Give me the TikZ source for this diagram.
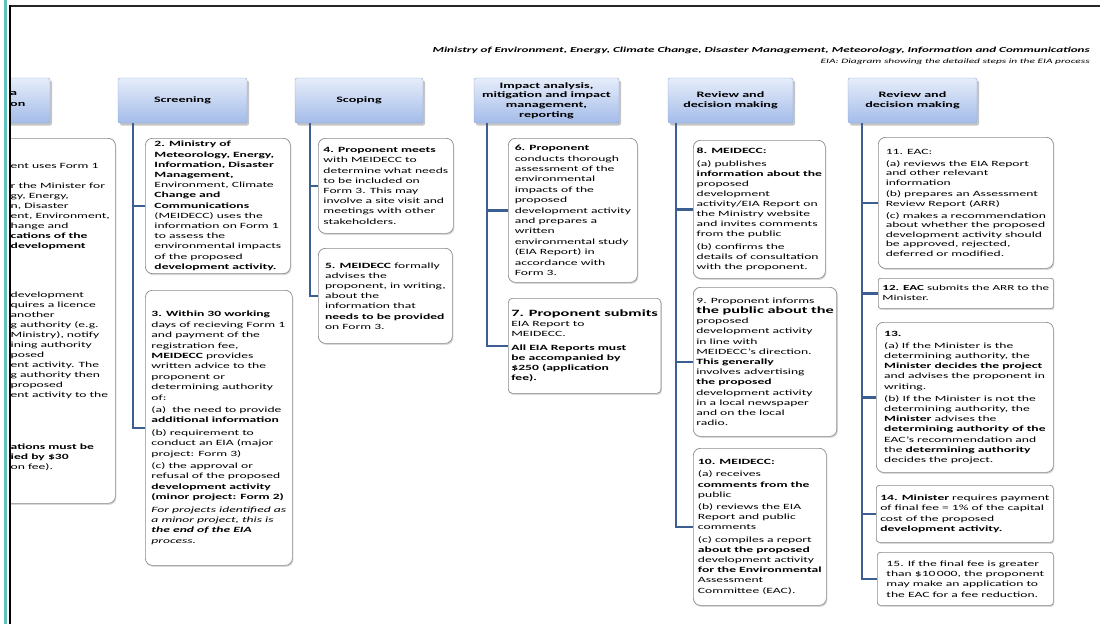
\documentclass[tikz,border=0pt]{standalone}
\usepackage{fontspec}
\setmainfont{Carlito}[FakeStretch=1.7]
\usetikzlibrary{shadows}

\definecolor{hdtop}{HTML}{E6EDFA}
\definecolor{hdbot}{HTML}{A4BCE9}
\definecolor{hdline}{HTML}{8EA6D3}
\definecolor{trunk}{HTML}{3D5E92}
\definecolor{boxline}{HTML}{8A8A8A}
\definecolor{edgeteal}{HTML}{62C2BE}

\begin{document}
\begin{tikzpicture}[
    x=1pt, y=-1pt,
    stage/.style={draw=hdline, rounded corners=2pt, top color=hdtop, bottom color=hdbot,
      minimum width=#1, minimum height=45pt, align=center, inner sep=1pt,
      font=\fontsize{8.3}{9.6}\selectfont\bfseries,
      drop shadow={shadow xshift=2pt, shadow yshift=-2.5pt, fill=black!45, opacity=.5}},
    stepbox/.style={draw=boxline, line width=.7pt, rounded corners=7pt, fill=white,
      anchor=north west, align=left, inner sep=3pt,
      font=\fontsize{8}{10.2}\selectfont,
      drop shadow={shadow xshift=1pt, shadow yshift=-1.5pt, fill=black!30, opacity=.5}},
    link/.style={draw=trunk, line width=2.6pt, line join=miter},
]
  \useasboundingbox (0,0) rectangle (1100,624);

  % 左边被截掉的一列
  \begin{scope}
    \clip (9.5,0) rectangle (1100,624);
    \node[stage=127pt] (h0) at (-13.5,100.5) {};
    \node[anchor=west, align=left, inner sep=0pt, font=\fontsize{8.3}{10.5}\selectfont\bfseries]
      (h0txt) at (10,99) {a\\on};
    \node[stepbox, minimum width=175pt, minimum height=365pt] (b1) at (-60,138) {};
    \node[anchor=north west, align=left, inner sep=0pt, font=\fontsize{8}{10}\selectfont]
      (b1txt) at (10.5,163) {ent uses Form 1\\[10pt]
      r the Minister for\\ gy, Energy,\\ n, Disaster\\ ent, Environment,\\ hange and\\
      \textbf{cations of the}\\ \textbf{development}\\[39pt]
      development\\ quires a licence\\ another\\ g authority (e.g.\\ Ministry), notify\\
      ining authority\\ posed\\ ent activity. The\\ g authority then\\ proposed\\
      ent activity to the\\[42pt]
      \textbf{ations must be}\\ \textbf{ied by \$30}\\ on fee).};
  \end{scope}

  % 标题
  \node[anchor=east, inner sep=0pt, font=\fontsize{7.7}{8}\selectfont\bfseries\itshape]
    (title) at (1090,50) {Ministry of Environment, Energy, Climate Change, Disaster Management, Meteorology, Information and Communications};
  \node[anchor=east, inner sep=0pt, font=\fontsize{6.7}{8}\selectfont\itshape]
    (subtitle) at (1090,61.5) {EIA: Diagram showing the detailed steps in the EIA process};

  % 各阶段
  \node[stage=129pt] (h1) at (182.5,100.5) {Screening};
  \node[stage=128pt] (h2) at (359,100.5) {Scoping};
  \node[stage=145pt] (h3) at (546.5,100.5) {Impact analysis,\\ mitigation and impact\\ management,\\ reporting};
  \node[stage=125pt] (h4) at (730.5,100.5) {Review and\\ decision making};
  \node[stage=129pt] (h5) at (912.5,100.5) {Review and\\ decision making};

  % Screening
  \node[stepbox, minimum width=145pt, minimum height=133pt] (b2) at (145,138)
    {\textbf{2. Ministry of}\\ \textbf{Meteorology, Energy,}\\ \textbf{Information, Disaster}\\
     \textbf{Management,}\\ Environment, Climate\\ \textbf{Change and}\\ \textbf{Communications}\\
     (MEIDECC) uses the\\ information on Form 1\\ to assess the\\ environmental impacts\\
     of the proposed\\ \textbf{development activity.}};
  \node[stepbox, minimum width=147pt, minimum height=275pt, font=\fontsize{8}{10.4}\selectfont] (b3) at (145,290)
    {\textbf{3. Within 30 working}\\ days of recieving Form 1\\ and payment of the\\
     registration fee,\\ \textbf{MEIDECC} provides\\ written advice to the\\ proponent or\\
     determining authority\\ of:\\[2pt]
     (a)\ \ the need to provide\\ \textbf{additional information}\\[2pt]
     (b) requirement to\\ conduct an EIA (major\\ project: Form 3)\\[2pt]
     (c) the approval or\\ refusal of the proposed\\ \textbf{development activity}\\
     \textbf{(minor project: Form 2)}\\[2pt]
     \textit{For projects identified as}\\ \textit{a minor project, this is}\\
     \textbf{\textit{the end of the EIA}}\\ \textit{process.}};

  % Scoping
  \node[stepbox, minimum width=135pt, minimum height=95pt] (b4) at (318,138)
    {\textbf{4. Proponent meets}\\ with MEIDECC to\\ determine what needs\\ to be included on\\
     Form 3. This may\\ involve a site visit and\\ meetings with other\\ stakeholders.};
  \node[stepbox, minimum width=134pt, minimum height=95pt] (b5) at (318,248)
    {\textbf{5. MEIDECC} formally\\ advises the\\ proponent, in writing,\\ about the\\
     information that\\ \textbf{needs to be provided}\\ on Form 3.};

  % Impact analysis
  \node[stepbox, minimum width=129pt, minimum height=144pt, font=\fontsize{8}{10.4}\selectfont] (b6) at (508,138)
    {\textbf{6. Proponent}\\ conducts thorough\\ assessment of the\\ environmental\\
     impacts of the\\ proposed\\ development activity\\ and prepares a\\ written\\
     environmental study\\ (EIA Report) in\\ accordance with\\ Form 3.};
  \node[stepbox, rounded corners=4pt, minimum width=129pt, minimum height=95pt] (b7) at (508,298)
    {{\fontsize{9.6}{11}\selectfont\bfseries 7. Proponent submits}\\ EIA Report to\\ MEIDECC.\\[3pt]
     \textbf{All EIA Reports must}\\ \textbf{be accompanied by}\\ \textbf{\$250 (application}\\
     \textbf{fee).}};

  % Review (MEIDECC)
  \node[stepbox, minimum width=132pt, minimum height=138pt, font=\fontsize{8}{10}\selectfont] (b8) at (693,140)
    {\textbf{8. MEIDECC:}\\[3pt] (a) publishes\\ \textbf{information about the}\\ proposed\\
     development\\ activity/EIA Report on\\ the Ministry website\\ and invites comments\\
     from the public\\[3pt] (b) confirms the\\ details of consultation\\ with the proponent.};
  \node[stepbox, minimum width=132pt, minimum height=149pt] (b9) at (693,287)
    {9. Proponent informs\\ {\fontsize{9.6}{11}\selectfont\bfseries the public about the}\\
     proposed\\ development activity\\ in line with\\ MEIDECC's direction.\\
     \textbf{This generally}\\ involves advertising\\ \textbf{the proposed}\\
     development activity\\ in a local newspaper\\ and on the local\\ radio.};
  \node[stepbox, minimum width=133pt, minimum height=157pt] (b10) at (693,448)
    {\textbf{10. MEIDECC:}\\[2pt] (a) receives\\ \textbf{comments from the}\\ public\\[2pt]
     (b) reviews the EIA\\ Report and public\\ comments\\[2pt]
     (c) compiles a report\\ \textbf{about the proposed}\\ development activity\\
     \textbf{for the Environmental}\\ Assessment\\ Committee (EAC).};

  % Review (EAC)
  \node[stepbox, minimum width=175pt, minimum height=131pt, font=\fontsize{8}{9.6}\selectfont] (b11) at (878,137)
    {11. EAC:\\[2pt] (a) reviews the EIA Report\\ and other relevant\\ information\\[2pt]
     (b) prepares an Assessment\\ Review Report (ARR)\\[2pt]
     (c) makes a recommendation\\ about whether the proposed\\
     development activity should\\ be approved, rejected,\\ deferred or modified.};
  \node[stepbox, rounded corners=2pt, minimum width=175pt, minimum height=30pt, font=\fontsize{7.7}{10}\selectfont] (b12) at (878,278)
    {\textbf{12. EAC} submits the ARR to the\\ Minister.};
  \node[stepbox, minimum width=177pt, minimum height=150pt] (b13) at (876,322)
    {\textbf{13.}\\[2pt] (a) If the Minister is the\\ determining authority, the\\
     \textbf{Minister decides the project}\\ and advises the proponent in\\ writing.\\[2pt]
     (b) If the Minister is not the\\ determining authority, the\\ \textbf{Minister} advises the\\
     \textbf{determining authority of the}\\ EAC's recommendation and\\
     the \textbf{determining authority}\\ decides the project.};
  \node[stepbox, rounded corners=3pt, minimum width=177pt, minimum height=57pt, font=\fontsize{8}{10.6}\selectfont] (b14) at (876,485)
    {\textbf{14. Minister} requires payment\\ of final fee = 1\% of the capital\\
     cost of the proposed\\ \textbf{development activity.}};
  \node[stepbox, rounded corners=3pt, minimum width=176pt, minimum height=53pt, font=\fontsize{8}{10.4}\selectfont] (b15) at (877,552)
    {15. If the final fee is greater\\ than \$10\,000, the proponent\\
     may make an application to\\ the EAC for a fee reduction.};

  % 连接线
  \coordinate (c1) at ([xshift=15pt]h1.south west);
  \coordinate (c2) at ([xshift=15pt]h2.south west);
  \coordinate (c3) at ([xshift=13pt]h3.south west);
  \coordinate (c4) at ([xshift=8pt]h4.south west);
  \coordinate (c5) at ([xshift=14pt]h5.south west);
  \foreach \b in {2,3} \draw[link] (c1) |- (b\b.west);
  \foreach \b in {4,5} \draw[link] (c2) |- (b\b.west);
  \foreach \b in {6,7} \draw[link] (c3) |- (b\b.west);
  \foreach \b in {8,9,10} \draw[link] (c4) |- (b\b.west);
  \foreach \b in {11,...,15} \draw[link] (c5) |- (b\b.west);

  % 边框
  \draw[edgeteal, line width=2.2pt] (5.5,0) -- (5.5,624);
  \draw[black!85, line width=2pt] (9.5,6) -- (1100,6);
  \draw[black, line width=2pt] (9.5,5) -- (9.5,624);

\end{tikzpicture}
\end{document}
